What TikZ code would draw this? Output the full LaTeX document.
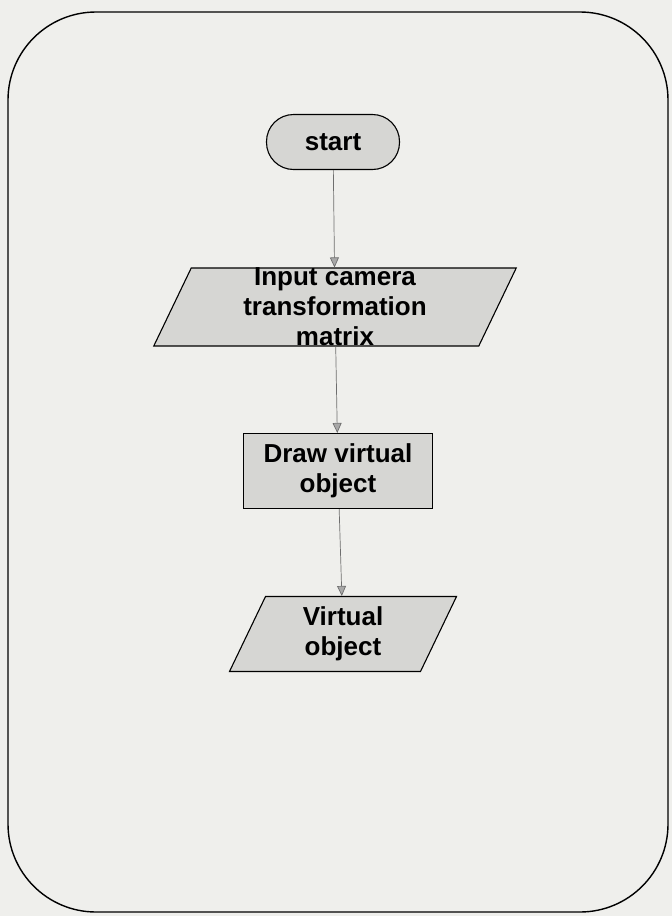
\documentclass[tikz,border=0pt]{standalone}
\usepackage{fontspec}
\setmainfont{Liberation Sans}
\definecolor{paper}{HTML}{EFEFEC}
\definecolor{shade}{HTML}{D6D6D3}
\definecolor{wire}{HTML}{6E6E6E}
\usetikzlibrary{arrows.meta}
\tikzset{
  term/.style={draw=black, fill=shade, line width=1.1pt, rounded corners=27pt,
               minimum width=133pt, minimum height=55pt, inner sep=0pt, align=center},
  proc/.style={draw=black, fill=shade, line width=1.1pt, minimum width=189pt,
               minimum height=75pt, inner sep=0pt, align=center},
  iobox/.style={draw=black, fill=shade, line width=1.1pt, xslant=0.48, transform shape,
                inner sep=0pt, minimum height=78pt},
  txt/.style={align=center, inner sep=0pt},
  flow/.style={-{Triangle[length=10pt,width=9pt,fill=wire!60]}, wire, line width=0.7pt},
}

\begin{document}
\begin{tikzpicture}[x=1pt,y=-1pt,font=\fontsize{26}{30}\selectfont\bfseries]
\fill[paper] (0,0) rectangle (672,916);
\useasboundingbox (0,0) rectangle (672,916);
\draw[line width=1.4pt, rounded corners=88pt] (8,12) rectangle (668,912);
\node[term] (start) at (333,142) {start};
\node[iobox, minimum width=325pt] (input) at (335,307) {};
\node[txt] (inputtxt) at (input.center) {Input camera\\transformation\\matrix};
\node[proc] (draw) at (338,471) {Draw virtual\\object};
\node[iobox, minimum width=191pt, minimum height=75pt] (vobj) at (343,634) {};
\node[txt] (vobjtxt) at (vobj.center) {Virtual\\object};
\draw[flow] (start)--(input);\draw[flow] (input)--(draw);
\draw[flow] (draw)--(vobj);
\end{tikzpicture}
\end{document}
